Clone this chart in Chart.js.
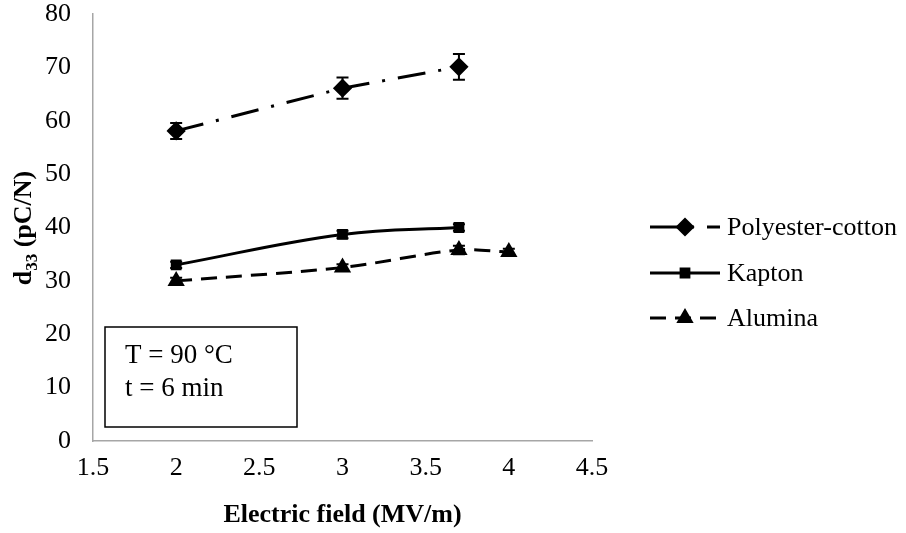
<!DOCTYPE html>
<html>
<head>
<meta charset="utf-8">
<script src="https://cdn.jsdelivr.net/npm/chart.js@4.4.0/dist/chart.umd.min.js"></script>
<style>
  html, body { margin: 0; padding: 0; background: #fff; }
  #wrap { width: 906px; height: 533px; position: relative; }
</style>
</head>
<body>
<div id="wrap"><canvas id="chart"></canvas></div>
<script>
const xTicks = [1.5, 2, 2.5, 3, 3.5, 4, 4.5];
const yTicks = [0, 10, 20, 30, 40, 50, 60, 70, 80];

const polyX = [2, 3, 3.7];
const polyY = [58.1, 66.1, 70.1];
const polyErr = [1.5, 2.0, 2.4];

const kaptonX = [2, 3, 3.7];
const kaptonY = [33.0, 38.7, 40.0];
const kaptonErr = [0.6, 0.7, 0.6];

const aluminaX = [2, 3, 3.7, 4];
const aluminaY = [30.0, 32.5, 35.8, 35.4];
const aluminaErr = [0.6, 0.6, 0.8, 0.6];

const FONT = "'Liberation Serif', 'Times New Roman', serif";

function pts(xs, ys) {
  return xs.map((x, i) => ({ x: x, y: ys[i] }));
}

// error bars
const errorBars = {
  id: 'errorBars',
  afterDatasetsDraw(chart) {
    const ctx = chart.ctx;
    const yScale = chart.scales.y;
    ctx.save();
    ctx.strokeStyle = '#000';
    ctx.lineWidth = 2;
    chart.data.datasets.forEach((ds, i) => {
      const meta = chart.getDatasetMeta(i);
      meta.data.forEach((p, j) => {
        const e = ds.errors[j];
        const v = ds.data[j].y;
        const top = yScale.getPixelForValue(v + e);
        const bot = yScale.getPixelForValue(v - e);
        ctx.beginPath();
        ctx.moveTo(p.x, top); ctx.lineTo(p.x, bot);
        ctx.moveTo(p.x - 6, top); ctx.lineTo(p.x + 6, top);
        ctx.moveTo(p.x - 6, bot); ctx.lineTo(p.x + 6, bot);
        ctx.stroke();
      });
    });
    ctx.restore();
  }
};

// legend with line samples, y title with subscript, text box
const extras = {
  id: 'extras',
  afterDraw(chart) {
    const ctx = chart.ctx;
    const area = chart.chartArea;
    ctx.save();

    // legend
    const legY = [227, 273, 318];
    chart.data.datasets.forEach((ds, i) => {
      const y = legY[i];
      ctx.strokeStyle = '#000';
      ctx.lineWidth = ds.borderWidth;
      ctx.setLineDash(ds.borderDash || []);
      ctx.beginPath();
      ctx.moveTo(650, y); ctx.lineTo(720, y);
      ctx.stroke();
      ctx.setLineDash([]);
      ctx.fillStyle = '#000';
      Chart.helpers.drawPoint(ctx, {
        pointStyle: ds.pointStyle, radius: ds.pointRadius, borderWidth: 1, rotation: 0
      }, 685, y);
      ctx.font = '26px ' + FONT;
      ctx.textAlign = 'left';
      ctx.textBaseline = 'middle';
      ctx.fillText(ds.label, 727, y + 1);
    });

    // y axis title: d33 (pC/N)
    ctx.translate(22, 228);
    ctx.rotate(-Math.PI / 2);
    const big = 'bold 26px ' + FONT;
    const small = 'bold 17px ' + FONT;
    ctx.font = big;
    const wD = ctx.measureText('d').width;
    const wRest = ctx.measureText(' (pC/N)').width;
    ctx.font = small;
    const wSub = ctx.measureText('33').width;
    let x0 = -(wD + wSub + wRest) / 2;
    ctx.textBaseline = 'alphabetic';
    ctx.textAlign = 'left';
    ctx.fillStyle = '#000';
    ctx.font = big;
    ctx.fillText('d', x0, 9);
    ctx.font = small;
    ctx.fillText('33', x0 + wD, 15);
    ctx.font = big;
    ctx.fillText(' (pC/N)', x0 + wD + wSub, 9);
    ctx.setTransform(1, 0, 0, 1, 0, 0);

    // condition box
    const bx = area.left + 12, by = area.bottom - 114;
    ctx.strokeStyle = '#000';
    ctx.lineWidth = 1.5;
    ctx.strokeRect(bx, by, 192, 100);
    ctx.font = '27px ' + FONT;
    ctx.textBaseline = 'middle';
    ctx.fillText('T = 90 °C', bx + 20, by + 29);
    ctx.fillText('t = 6 min', bx + 20, by + 62);

    ctx.restore();
  }
};

new Chart(document.getElementById('chart'), {
  type: 'line',
  data: {
    datasets: [
      {
        label: 'Polyester-cotton',
        data: pts(polyX, polyY),
        errors: polyErr,
        borderColor: '#000',
        backgroundColor: '#000',
        borderWidth: 3,
        borderDash: [28, 13, 3, 13],
        pointStyle: 'rectRot',
        pointRadius: 7.5,
        tension: 0
      },
      {
        label: 'Kapton',
        data: pts(kaptonX, kaptonY),
        errors: kaptonErr,
        borderColor: '#000',
        backgroundColor: '#000',
        borderWidth: 3,
        pointStyle: 'rect',
        pointRadius: 5.5,
        tension: 0.4
      },
      {
        label: 'Alumina',
        data: pts(aluminaX, aluminaY),
        errors: aluminaErr,
        borderColor: '#000',
        backgroundColor: '#000',
        borderWidth: 3,
        borderDash: [16, 9],
        pointStyle: 'triangle',
        pointRadius: 7,
        tension: 0.3
      }
    ]
  },
  options: {
    responsive: true,
    maintainAspectRatio: false,
    animation: false,
    layout: { padding: { left: 0, right: 314, top: 14, bottom: 0 } },
    plugins: {
      legend: { display: false },
      tooltip: { enabled: false }
    },
    scales: {
      x: {
        type: 'linear',
        min: 1.5, max: 4.5,
        afterBuildTicks: (s) => { s.ticks = xTicks.map(v => ({ value: v })); },
        afterFit: (s) => { s.height = 92; s.paddingLeft = 0; s.paddingRight = 0; },
        grid: { drawOnChartArea: false, drawTicks: false },
        border: { color: '#a6a6a6', width: 1.5 },
        ticks: {
          color: '#000', font: { family: FONT, size: 26 }, padding: 12,
          callback: (v) => String(v)
        },
        title: {
          display: true,
          text: 'Electric field (MV/m)',
          color: '#000',
          font: { family: FONT, size: 26, weight: 'bold' },
          padding: { top: 4, bottom: 2 }
        }
      },
      y: {
        min: 0, max: 80,
        afterBuildTicks: (s) => { s.ticks = yTicks.map(v => ({ value: v })); },
        afterFit: (s) => { s.width = 93; s.paddingTop = 0; s.paddingBottom = 0; },
        grid: { drawOnChartArea: false, drawTicks: false },
        border: { color: '#a6a6a6', width: 1.5 },
        ticks: { color: '#000', font: { family: FONT, size: 26 }, padding: 22 }
      }
    }
  },
  plugins: [errorBars, extras]
});
</script>
</body>
</html>
